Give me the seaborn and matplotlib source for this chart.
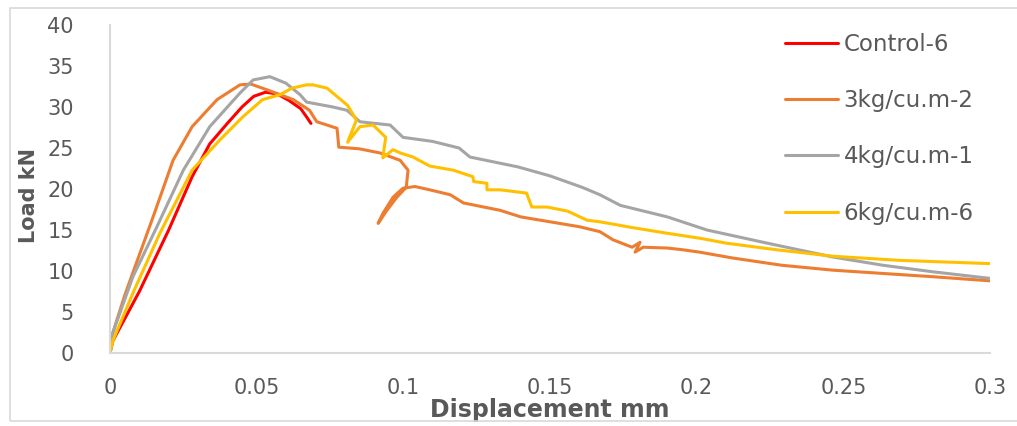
import numpy as np
import pandas as pd
import matplotlib
matplotlib.use("Agg")
import matplotlib.pyplot as plt
import seaborn as sns
from matplotlib.patches import Rectangle

series_names = ["Control-6", "3kg/cu.m-2", "4kg/cu.m-1", "6kg/cu.m-6"]
series_colors = ["#FF0000", "#ED7D31", "#A5A5A5", "#FFC000"]

control_x = [0, 0.001, 0.01, 0.02, 0.028, 0.034, 0.04, 0.045, 0.049, 0.053, 0.057, 0.061, 0.065, 0.067, 0.0685]
control_y = [0, 1.5, 7.5, 15.0, 21.5, 25.5, 28.0, 30.0, 31.3, 31.8, 31.6, 30.8, 29.8, 28.8, 28.0]

kg3_x = [0, 0.001, 0.005, 0.0078, 0.0147, 0.0215, 0.028, 0.0365, 0.0443, 0.048, 0.0535, 0.0625, 0.068, 0.0705,
         0.074, 0.0774, 0.078, 0.085, 0.092, 0.0989, 0.1016, 0.101, 0.0978, 0.0944, 0.0914, 0.093, 0.0965, 0.0999,
         0.104, 0.109, 0.116, 0.1205, 0.133, 0.14, 0.15, 0.16, 0.167, 0.1715, 0.178, 0.1807, 0.179, 0.1818, 0.19,
         0.195, 0.201, 0.212, 0.229, 0.2465, 0.2635, 0.2806, 0.3]
kg3_y = [0, 2.5, 7.0, 9.8, 16.6, 23.5, 27.6, 30.9, 32.7, 32.8, 32.1, 30.9, 29.6, 28.2,
         27.8, 27.4, 25.1, 24.9, 24.4, 23.5, 22.3, 20.2, 19.0, 17.4, 15.8, 17.0, 19.0, 20.1,
         20.3, 19.9, 19.3, 18.3, 17.4, 16.6, 16.0, 15.4, 14.8, 13.8, 12.9, 13.5, 12.3, 12.9, 12.8,
         12.6, 12.3, 11.6, 10.7, 10.1, 9.7, 9.3, 8.8]

kg4_x = [0, 0.001, 0.0078, 0.016, 0.025, 0.034, 0.0443, 0.0488, 0.0545, 0.060, 0.0648, 0.067, 0.076, 0.0808,
         0.0852, 0.0955, 0.0999, 0.11, 0.119, 0.1227, 0.139, 0.15, 0.161, 0.167, 0.174, 0.19, 0.2035, 0.224,
         0.2465, 0.2635, 0.2806, 0.3]
kg4_y = [0, 2.5, 9.3, 15.4, 22.3, 27.6, 31.7, 33.3, 33.7, 32.9, 31.5, 30.6, 30.0, 29.6,
         28.2, 27.8, 26.3, 25.8, 25.0, 23.9, 22.7, 21.6, 20.2, 19.3, 18.0, 16.6, 15.0, 13.4,
         11.7, 10.7, 9.9, 9.1]

kg6_x = [0, 0.001, 0.0078, 0.017, 0.028, 0.0375, 0.0453, 0.052, 0.058, 0.062, 0.067, 0.0692, 0.074, 0.076,
         0.081, 0.084, 0.081, 0.0852, 0.0897, 0.094, 0.093, 0.0965, 0.0989, 0.1033, 0.109, 0.117, 0.1237, 0.124,
         0.1285, 0.1285, 0.133, 0.142, 0.1438, 0.149, 0.156, 0.1626, 0.167, 0.178, 0.19, 0.201, 0.21, 0.227,
         0.2465, 0.269, 0.3]
kg6_y = [0, 1.5, 7.3, 14.6, 22.3, 26.0, 28.8, 30.9, 31.5, 32.3, 32.7, 32.7, 32.3, 31.7,
         30.2, 28.4, 25.7, 27.6, 27.8, 26.3, 23.8, 24.8, 24.4, 23.9, 22.8, 22.3, 21.5, 20.9,
         20.7, 19.9, 19.9, 19.5, 17.8, 17.8, 17.3, 16.2, 16.0, 15.3, 14.6, 14.0, 13.4, 12.6,
         11.8, 11.3, 10.9]

x_ticks = [0, 0.05, 0.1, 0.15, 0.2, 0.25, 0.3]
x_tick_labels = ["0", "0.05", "0.1", "0.15", "0.2", "0.25", "0.3"]
y_ticks = [0, 5, 10, 15, 20, 25, 30, 35, 40]

frames = []
for name, xs, ys in zip(series_names, [control_x, kg3_x, kg4_x, kg6_x], [control_y, kg3_y, kg4_y, kg6_y]):
    frames.append(pd.DataFrame({"disp": xs, "load": ys, "series": name}))
df = pd.concat(frames, ignore_index=True)

sns.set_theme(style="white")
plt.rcParams['font.family'] = ['DejaVu Sans']
text_color = "#595959"

fig = plt.figure(figsize=(10.17, 4.26), dpi=100)
ax = fig.add_axes([110 / 1017, 1 - 353 / 426, (990 - 110) / 1017, (353 - 25) / 426])

sns.lineplot(data=df, x="disp", y="load", hue="series", hue_order=series_names,
             palette=series_colors, sort=False, estimator=None, units="series",
             linewidth=2.2, ax=ax)

ax.set_xlim(0, 0.3)
ax.set_ylim(0, 40)
ax.set_xticks(x_ticks)
ax.set_xticklabels(x_tick_labels)
ax.set_yticks(y_ticks)
ax.tick_params(axis="both", length=0, labelsize=15, colors=text_color)
ax.tick_params(axis="y", pad=26)
ax.tick_params(axis="x", pad=18)
ax.set_xlabel("Displacement mm", fontsize=17, fontweight="bold", color=text_color)
ax.xaxis.set_label_coords(0.5, (353 - 410) / 328, transform=ax.transAxes)
ax.set_ylabel("Load kN", fontsize=15, fontweight="bold", color=text_color, va="center")
ax.yaxis.set_label_coords((29 - 110) / 880, 0.48, transform=ax.transAxes)
for s in ["top", "right"]:
    ax.spines[s].set_visible(False)
for s in ["left", "bottom"]:
    ax.spines[s].set_color("#D9D9D9")
    ax.spines[s].set_linewidth(1.5)
ax.xaxis.label.set_va("center")

leg = ax.legend(loc="upper left", bbox_to_anchor=(785 / 1017, 1 - 33 / 426), bbox_transform=fig.transFigure,
                frameon=False, fontsize=16.5, handlelength=2.3, handletextpad=0.25, labelspacing=1.45,
                borderpad=0, borderaxespad=0)
for t in leg.get_texts():
    t.set_color(text_color)
for l in leg.get_lines():
    l.set_linewidth(2.2)

fig.patches.append(Rectangle((10 / 1017, 5 / 426), 1.2, 413 / 426, transform=fig.transFigure,
                             fill=False, edgecolor="#D9D9D9", linewidth=1.2))

fig.savefig("out.png", dpi=100)
